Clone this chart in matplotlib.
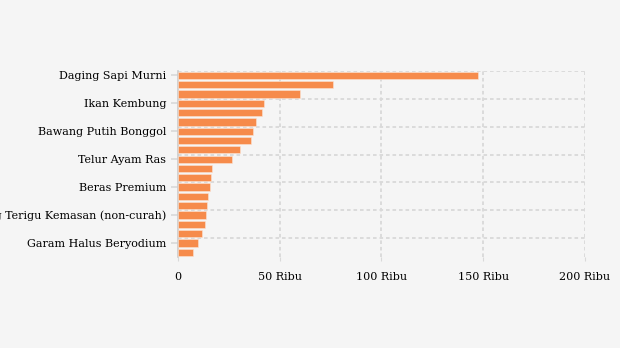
import matplotlib.pyplot as plt
from matplotlib.ticker import FuncFormatter

# harga per kg (Rp), urut dari atas ke bawah
values = [147400, 76200, 60000, 42300, 41300, 38300, 36900, 35900, 30500, 26500,
          16600, 16100, 15600, 14600, 14100, 14000, 13100, 11600, 10100, 7600]
# hanya tiap bar ketiga yang diberi label
labels = ["Daging Sapi Murni", "Ikan Kembung", "Bawang Putih Bonggol", "Telur Ayam Ras",
          "Beras Premium", "Tepung Terigu Kemasan (non-curah)", "Garam Halus Beryodium"]
xticks = [0, 50000, 100000, 150000, 200000]

bg = "#f5f5f5"
grid_col = "#d9d9d9"

plt.rcParams["font.family"] = ["DejaVu Serif"]

fig = plt.figure(figsize=(6.2, 3.48), dpi=100, facecolor=bg)
ax = fig.add_axes([0.287, 0.2615, 0.6565, 0.5355], facecolor=bg)

pos = list(range(len(values)))
ax.barh(pos, values, height=0.78, color="#f68b4b", edgecolor="#fbe3d4", linewidth=0.4, zorder=3)

ax.set_ylim(len(values) - 0.5, -0.5)
ax.set_xlim(0, 200000)

label_pos = pos[::3]
ax.set_yticks(label_pos)
ax.set_yticklabels(labels, fontsize=8)
ax.set_xticks(xticks)
ax.xaxis.set_major_formatter(FuncFormatter(lambda v, p: "0" if v == 0 else f"{int(v/1000)} Ribu"))
ax.tick_params(axis="x", labelsize=8, length=3, color=grid_col, pad=8)
ax.tick_params(axis="y", length=5, color=grid_col, pad=3.5, width=1.2)

for s in ["top", "right", "bottom"]:
    ax.spines[s].set_visible(False)
ax.spines["left"].set_color("#cccccc")
ax.spines["left"].set_linewidth(1.2)

# garis bantu
for x in xticks[1:]:
    ax.axvline(x, color=grid_col, lw=1.3, ls=(0, (2, 1.6)), zorder=1)
for y in label_pos:
    ax.axhline(y - 0.5, color=grid_col, lw=1.3, ls=(0, (2, 1.6)), zorder=1)

fig.savefig("out.png", dpi=100, facecolor=bg)
